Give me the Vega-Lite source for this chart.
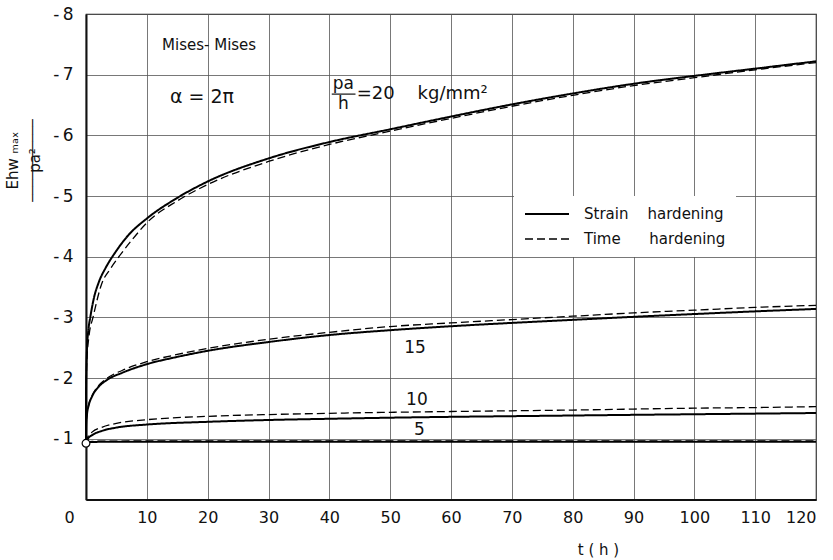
{
  "$schema": "https://vega.github.io/schema/vega-lite/v6.json",
  "width": 730,
  "height": 485.5,
  "autosize": {"type": "none"},
  "padding": {"left": 86, "top": 14, "right": 17, "bottom": 60.5},
  "background": "white",
  "config": {
    "font": "DejaVu Sans",
    "view": {"stroke": "#222", "strokeWidth": 1.2},
    "axis": {"gridColor": "#555", "gridWidth": 0.8, "gridOpacity": 1, "ticks": false, "domainColor": "#111", "domainWidth": 2, "labelColor": "#111", "titleColor": "#111", "titleFontWeight": "normal"}
  },
  "datasets": {
    "curves": [
      {"p":5,"m":"S","t":0,"v":-0.926},{"p":5,"m":"S","t":0.3,"v":-0.94},{"p":5,"m":"S","t":1,"v":-0.948},{"p":5,"m":"S","t":5,"v":-0.952},{"p":5,"m":"S","t":20,"v":-0.953},{"p":5,"m":"S","t":40,"v":-0.953},{"p":5,"m":"S","t":60,"v":-0.952},{"p":5,"m":"S","t":80,"v":-0.952},{"p":5,"m":"S","t":100,"v":-0.951},{"p":5,"m":"S","t":120,"v":-0.951},
      {"p":5,"m":"T","t":0,"v":-0.926},{"p":5,"m":"T","t":0.3,"v":-0.95},{"p":5,"m":"T","t":1,"v":-0.958},{"p":5,"m":"T","t":5,"v":-0.963},{"p":5,"m":"T","t":20,"v":-0.966},{"p":5,"m":"T","t":40,"v":-0.967},{"p":5,"m":"T","t":60,"v":-0.967},{"p":5,"m":"T","t":80,"v":-0.967},{"p":5,"m":"T","t":100,"v":-0.967},{"p":5,"m":"T","t":120,"v":-0.967},
      {"p":10,"m":"S","t":0,"v":-0.926},{"p":10,"m":"S","t":0.3,"v":-1.0},{"p":10,"m":"S","t":1,"v":-1.06},{"p":10,"m":"S","t":2.6,"v":-1.13},{"p":10,"m":"S","t":5,"v":-1.185},{"p":10,"m":"S","t":10,"v":-1.235},{"p":10,"m":"S","t":20,"v":-1.28},{"p":10,"m":"S","t":30,"v":-1.31},{"p":10,"m":"S","t":40,"v":-1.33},{"p":10,"m":"S","t":50,"v":-1.348},{"p":10,"m":"S","t":60,"v":-1.362},{"p":10,"m":"S","t":70,"v":-1.373},{"p":10,"m":"S","t":80,"v":-1.384},{"p":10,"m":"S","t":90,"v":-1.395},{"p":10,"m":"S","t":100,"v":-1.405},{"p":10,"m":"S","t":110,"v":-1.415},{"p":10,"m":"S","t":120,"v":-1.425},
      {"p":10,"m":"T","t":0,"v":-0.926},{"p":10,"m":"T","t":0.3,"v":-1.03},{"p":10,"m":"T","t":1,"v":-1.11},{"p":10,"m":"T","t":2.6,"v":-1.19},{"p":10,"m":"T","t":5,"v":-1.255},{"p":10,"m":"T","t":10,"v":-1.315},{"p":10,"m":"T","t":20,"v":-1.37},{"p":10,"m":"T","t":30,"v":-1.4},{"p":10,"m":"T","t":40,"v":-1.42},{"p":10,"m":"T","t":50,"v":-1.437},{"p":10,"m":"T","t":60,"v":-1.45},{"p":10,"m":"T","t":70,"v":-1.462},{"p":10,"m":"T","t":80,"v":-1.474},{"p":10,"m":"T","t":90,"v":-1.49},{"p":10,"m":"T","t":100,"v":-1.505},{"p":10,"m":"T","t":110,"v":-1.515},{"p":10,"m":"T","t":120,"v":-1.53},
      {"p":15,"m":"S","t":0,"v":-0.926},{"p":15,"m":"S","t":0.05,"v":-1.25},{"p":15,"m":"S","t":0.16,"v":-1.4},{"p":15,"m":"S","t":0.44,"v":-1.55},{"p":15,"m":"S","t":1,"v":-1.7},{"p":15,"m":"S","t":2,"v":-1.85},{"p":15,"m":"S","t":3.45,"v":-1.97},{"p":15,"m":"S","t":6,"v":-2.09},{"p":15,"m":"S","t":10,"v":-2.23},{"p":15,"m":"S","t":15,"v":-2.35},{"p":15,"m":"S","t":20,"v":-2.45},{"p":15,"m":"S","t":30,"v":-2.595},{"p":15,"m":"S","t":40,"v":-2.71},{"p":15,"m":"S","t":50,"v":-2.79},{"p":15,"m":"S","t":60,"v":-2.855},{"p":15,"m":"S","t":70,"v":-2.91},{"p":15,"m":"S","t":80,"v":-2.96},{"p":15,"m":"S","t":90,"v":-3.01},{"p":15,"m":"S","t":100,"v":-3.056},{"p":15,"m":"S","t":110,"v":-3.1},{"p":15,"m":"S","t":120,"v":-3.14},
      {"p":15,"m":"T","t":0,"v":-0.926},{"p":15,"m":"T","t":0.05,"v":-1.24},{"p":15,"m":"T","t":0.16,"v":-1.4},{"p":15,"m":"T","t":0.44,"v":-1.56},{"p":15,"m":"T","t":1,"v":-1.71},{"p":15,"m":"T","t":2,"v":-1.87},{"p":15,"m":"T","t":3.2,"v":-1.98},{"p":15,"m":"T","t":6,"v":-2.13},{"p":15,"m":"T","t":10,"v":-2.27},{"p":15,"m":"T","t":15,"v":-2.39},{"p":15,"m":"T","t":20,"v":-2.49},{"p":15,"m":"T","t":30,"v":-2.64},{"p":15,"m":"T","t":40,"v":-2.755},{"p":15,"m":"T","t":50,"v":-2.85},{"p":15,"m":"T","t":60,"v":-2.91},{"p":15,"m":"T","t":70,"v":-2.965},{"p":15,"m":"T","t":80,"v":-3.02},{"p":15,"m":"T","t":90,"v":-3.075},{"p":15,"m":"T","t":100,"v":-3.12},{"p":15,"m":"T","t":110,"v":-3.165},{"p":15,"m":"T","t":120,"v":-3.2},
      {"p":20,"m":"S","t":0,"v":-0.926},{"p":20,"m":"S","t":0.01,"v":-1.75},{"p":20,"m":"S","t":0.05,"v":-2.1},{"p":20,"m":"S","t":0.15,"v":-2.45},{"p":20,"m":"S","t":0.4,"v":-2.8},{"p":20,"m":"S","t":0.7,"v":-3.0},{"p":20,"m":"S","t":1.3,"v":-3.32},{"p":20,"m":"S","t":2.1,"v":-3.58},{"p":20,"m":"S","t":3.3,"v":-3.83},{"p":20,"m":"S","t":4.8,"v":-4.07},{"p":20,"m":"S","t":7,"v":-4.36},{"p":20,"m":"S","t":10,"v":-4.63},{"p":20,"m":"S","t":15,"v":-4.97},{"p":20,"m":"S","t":20,"v":-5.24},{"p":20,"m":"S","t":30,"v":-5.62},{"p":20,"m":"S","t":40,"v":-5.89},{"p":20,"m":"S","t":50,"v":-6.1},{"p":20,"m":"S","t":60,"v":-6.31},{"p":20,"m":"S","t":70,"v":-6.51},{"p":20,"m":"S","t":80,"v":-6.69},{"p":20,"m":"S","t":90,"v":-6.85},{"p":20,"m":"S","t":100,"v":-6.98},{"p":20,"m":"S","t":110,"v":-7.1},{"p":20,"m":"S","t":120,"v":-7.22},
      {"p":20,"m":"T","t":0,"v":-0.926},{"p":20,"m":"T","t":0.01,"v":-1.6},{"p":20,"m":"T","t":0.05,"v":-1.95},{"p":20,"m":"T","t":0.15,"v":-2.3},{"p":20,"m":"T","t":0.5,"v":-2.7},{"p":20,"m":"T","t":1.15,"v":-3.0},{"p":20,"m":"T","t":2.6,"v":-3.56},{"p":20,"m":"T","t":4,"v":-3.8},{"p":20,"m":"T","t":5.4,"v":-4.0},{"p":20,"m":"T","t":7.5,"v":-4.27},{"p":20,"m":"T","t":10,"v":-4.56},{"p":20,"m":"T","t":15,"v":-4.92},{"p":20,"m":"T","t":20,"v":-5.19},{"p":20,"m":"T","t":30,"v":-5.57},{"p":20,"m":"T","t":40,"v":-5.85},{"p":20,"m":"T","t":50,"v":-6.07},{"p":20,"m":"T","t":60,"v":-6.28},{"p":20,"m":"T","t":70,"v":-6.48},{"p":20,"m":"T","t":80,"v":-6.66},{"p":20,"m":"T","t":90,"v":-6.82},{"p":20,"m":"T","t":100,"v":-6.95},{"p":20,"m":"T","t":110,"v":-7.08},{"p":20,"m":"T","t":120,"v":-7.2}
    ]
  },
  "encoding": {
    "x": {
      "field": "t", "type": "quantitative",
      "scale": {"domain": [0, 120], "nice": false, "zero": false},
      "axis": {
        "values": [0, 10, 20, 30, 40, 50, 60, 70, 80, 90, 100, 110, 120],
        "labelFontSize": 16, "labelPadding": 10,
        "labelOffset": {"condition": {"test": "datum.value === 0", "value": -22}, "value": 0},
        "title": "t ( h )", "titleFontSize": 15, "titleX": 512, "titleY": 50, "titleAlign": "center", "titleBaseline": "middle"
      }
    },
    "y": {
      "field": "v", "type": "quantitative",
      "scale": {"domain": [0, -8], "nice": false, "zero": false},
      "axis": {
        "values": [0, -1, -2, -3, -4, -5, -6, -7, -8],
        "labelExpr": "datum.value === 0 ? '' : '-\u2009' + abs(datum.value)",
        "labelFontSize": 17, "labelPadding": 13,
        "title": ["Ehw ₘₐₓ", "___________", "pa²"],
        "titleFontSize": 15, "titleLineHeight": 11, "titleAngle": -90,
        "titleX": -74, "titleY": 146, "titleAlign": "center", "titleBaseline": "middle"
      }
    }
  },
  "layer": [
    {
      "data": {"name": "curves"},
      "mark": {"type": "line", "interpolate": "monotone", "color": "black"},
      "encoding": {
        "detail": {"field": "p", "type": "nominal"},
        "strokeDash": {
          "field": "m", "type": "nominal",
          "scale": {"domain": ["S", "T"], "range": [[1, 0], [8, 4]]},
          "legend": {
            "orient": "none", "legendX": 428, "legendY": 182, "title": null,
            "fillColor": "white", "padding": 10, "symbolType": "stroke", "symbolSize": 1936,
            "symbolStrokeColor": "black", "clipHeight": 16, "rowPadding": 9,
            "labelFontSize": 15, "labelOffset": 14, "labelColor": "#111", "labelLimit": 300,
            "labelExpr": "datum.value == 'S' ? 'Strain\u00a0\u00a0\u00a0\u00a0hardening' : 'Time\u00a0\u00a0\u00a0\u00a0\u00a0\u00a0hardening'"
          }
        },
        "strokeWidth": {
          "field": "m", "type": "nominal",
          "scale": {"domain": ["S", "T"], "range": [2, 1.3]},
          "legend": null
        }
      }
    },
    {
      "data": {"values": [{"t": 0, "v": -0.926}]},
      "mark": {"type": "point", "shape": "circle", "filled": true, "fill": "white", "stroke": "black", "strokeWidth": 1.2, "size": 60, "opacity": 1}
    },
    {
      "data": {"values": [{"t": 54.1, "v": -2.5, "label": "15"}, {"t": 54.4, "v": -1.64, "label": "10"}, {"t": 54.8, "v": -1.15, "label": "5"}]},
      "mark": {"type": "text", "fontSize": 17, "align": "center", "baseline": "middle", "color": "#111"},
      "encoding": {"text": {"field": "label"}}
    },
    {
      "data": {"values": [{"t": 42.3, "v": -6.84, "label": "pa"}, {"t": 42.3, "v": -6.52, "label": "h"}]},
      "mark": {"type": "text", "fontSize": 17, "align": "center", "baseline": "middle", "color": "#111"},
      "encoding": {"text": {"field": "label"}}
    },
    {
      "data": {"values": [{"t": 40.4, "t2": 44.3, "v": -6.68}]},
      "mark": {"type": "rule", "color": "#111", "strokeWidth": 1.2},
      "encoding": {"x2": {"field": "t2"}}
    },
    {
      "data": {"values": [{"t": 44.5, "v": -6.68, "label": "=20\u00a0\u00a0\u00a0\u00a0kg/mm²"}]},
      "mark": {"type": "text", "fontSize": 18, "align": "left", "baseline": "middle", "color": "#111"},
      "encoding": {"text": {"field": "label"}}
    },
    {
      "data": {"values": [{"t": 12.5, "v": -7.49, "label": "Mises- Mises"}]},
      "mark": {"type": "text", "fontSize": 15, "align": "left", "baseline": "middle", "color": "#111"},
      "encoding": {"text": {"field": "label"}}
    },
    {
      "data": {"values": [{"t": 13.8, "v": -6.63, "label": "α = 2π"}]},
      "mark": {"type": "text", "fontSize": 19, "align": "left", "baseline": "middle", "color": "#111"},
      "encoding": {"text": {"field": "label"}}
    }
  ]
}
